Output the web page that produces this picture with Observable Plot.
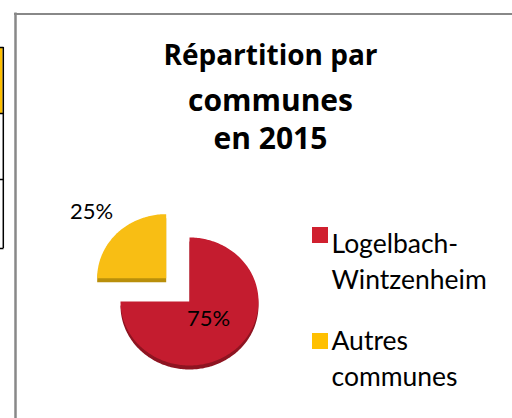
<!DOCTYPE html>
<html>
<head>
<meta charset="utf-8">
<script src="https://cdn.jsdelivr.net/npm/d3@7"></script>
<script src="https://cdn.jsdelivr.net/npm/@observablehq/plot@0.6"></script>
<style>
  html, body { margin: 0; padding: 0; background: #fff; }
  #chart svg { display: block; }
</style>
</head>
<body>
<div id="chart"></div>
<script>
// ---- data ----
const categories = ["Logelbach-Wintzenheim", "Autres communes"];
const legendLines = [["Logelbach-", "Wintzenheim"], ["Autres", "communes"]];
const values = [75, 25];
const percentLabels = ["75%", "25%"];
const colors = ["#C41C2F", "#F8BE14"];
const sideColors = ["#8E1421", "#B98F0B"];
const legendColors = ["#D0202F", "#FFC000"];
const titleLines = ["Répartition par", "communes", "en 2015"];

// ---- layout ----
const W = 512, H = 418;
const cx = 189, cy = 301, rx = 69, ry = 64, depth = 4;
const explode = [0, 33];
const titleX = 270, titleBaselines = [64, 110, 148], titleSizes = [28, 30, 30];
const labelPos = [[208, 325], [91, 218]];
const legendX = 312, legendBox = 16, legendTop = [227, 333];
const legendBaseline = [252, 349], legendLineGap = 36;

const pie = d3.pie().sort(null).value(d => d)(values);

function slicePolygon(p, i, dy) {
  const mid = (p.startAngle + p.endAngle) / 2;
  const ox = cx + explode[i] * Math.sin(mid);
  const oy = cy - explode[i] * Math.cos(mid) + dy;
  const steps = Math.max(8, Math.ceil((p.endAngle - p.startAngle) / 0.02));
  const pts = [{x: ox, y: oy, slice: i}];
  for (let k = 0; k <= steps; k++) {
    const a = p.startAngle + (p.endAngle - p.startAngle) * k / steps;
    pts.push({x: ox + rx * Math.sin(a), y: oy - ry * Math.cos(a), slice: i});
  }
  pts.push({x: ox, y: oy, slice: i});
  return pts;
}

const sides = pie.flatMap((p, i) => slicePolygon(p, i, depth));
const tops = pie.flatMap((p, i) => slicePolygon(p, i, 0));

const titleData = titleLines.map((t, i) => ({t, x: titleX, y: titleBaselines[i], s: titleSizes[i]}));
const labelData = percentLabels.map((t, i) => ({t, x: labelPos[i][0], y: labelPos[i][1]}));
const legendSquares = categories.map((c, i) => ({
  x1: legendX, x2: legendX + legendBox, y1: legendTop[i], y2: legendTop[i] + legendBox, i
}));
const legendText = legendLines.flatMap((lines, i) =>
  lines.map((t, j) => ({t, x: legendX + 19, y: legendBaseline[i] + j * legendLineGap})));

const titleMarks = titleData.map(d =>
  Plot.text([d], {x: "x", y: "y", text: "t", lineAnchor: "bottom", textAnchor: "middle",
    fontFamily: "'Open Sans', sans-serif", fontWeight: "bold", fontSize: d.s, fill: "#000"}));

const chart = Plot.plot({
  width: W, height: H,
  margin: 0,
  x: {domain: [0, W], axis: null},
  y: {domain: [0, H], reverse: true, axis: null},
  style: {background: "#fff", overflow: "hidden"},
  marks: [
    // left table fragment
    Plot.rect([{x1: 0, x2: 2.5, y1: 47, y2: 113}], {x1: "x1", x2: "x2", y1: "y1", y2: "y2", fill: "#FFC000"}),
    Plot.ruleY([47, 113, 179, 248], {x1: 0, x2: 3.5, stroke: "#000", strokeWidth: 1.5}),
    Plot.ruleX([2.8], {y1: 47, y2: 248, stroke: "#000", strokeWidth: 1.5}),
    // chart frame
    Plot.ruleX([15], {y1: 12.5, y2: H, stroke: "#888", strokeWidth: 2.5}),
    Plot.ruleY([13.5], {x1: 14, x2: W, stroke: "#888", strokeWidth: 2}),
    // pie sides then tops
    Plot.line(sides, {x: "x", y: "y", z: "slice", fill: d => sideColors[d.slice], stroke: "none", curve: "linear-closed"}),
    Plot.line(tops, {x: "x", y: "y", z: "slice", fill: d => colors[d.slice], stroke: "none", curve: "linear-closed"}),
    // percent labels
    Plot.text(labelData, {x: "x", y: "y", text: "t", lineAnchor: "bottom", textAnchor: "middle",
      fontFamily: "Lato, sans-serif", fontSize: 22, fill: "#000"}),
    // title
    ...titleMarks,
    // legend
    Plot.rect(legendSquares, {x1: "x1", x2: "x2", y1: "y1", y2: "y2", fill: d => legendColors[d.i]}),
    Plot.text(legendText, {x: "x", y: "y", text: "t", lineAnchor: "bottom", textAnchor: "start",
      fontFamily: "Lato, sans-serif", fontSize: 26.5, fill: "#000"})
  ]
});
document.getElementById("chart").append(chart);
</script>
</body>
</html>
